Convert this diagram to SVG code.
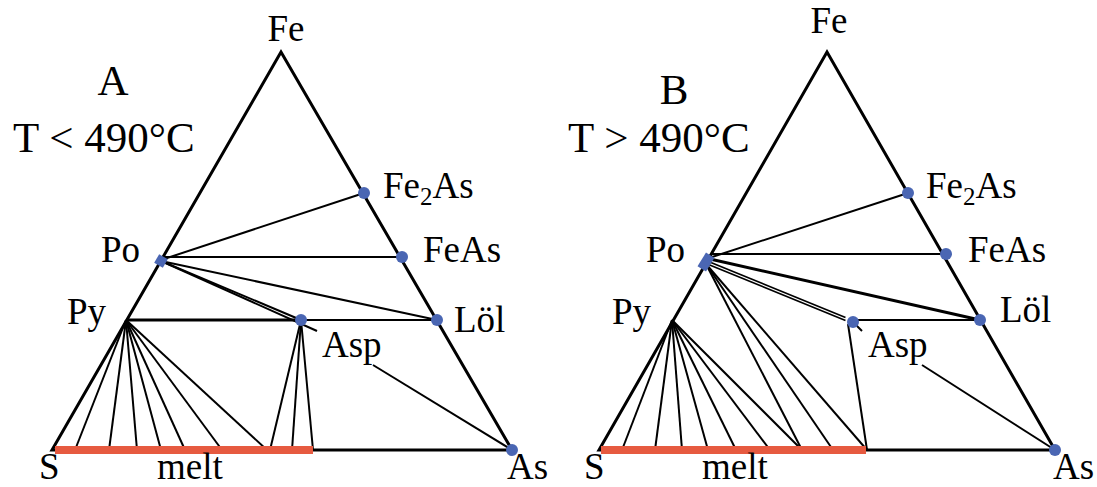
<svg xmlns="http://www.w3.org/2000/svg" width="1097" height="487" viewBox="0 0 1097 487">
<style>
  text { font-family: 'Liberation Serif', 'Times New Roman', Times, 'DejaVu Serif', serif; fill: #000; }
  .lbl { font-size: 37px; }
  .ttl { font-size: 43px; }
  .sub { font-size: 25px; }
  .edge { fill: none; stroke: #000; stroke-width: 3; stroke-linejoin: miter; }
  .tie { stroke: #000; stroke-width: 2; fill: none; }
  .thick { stroke: #000; stroke-width: 3; fill: none; }
  .thin { stroke: #000; stroke-width: 1.7; fill: none; }
  .dot { fill: #4a66b3; }
  .melt { fill: #e65a40; }
</style>
<rect width="1097" height="487" fill="#fff"/>

<!-- Panel A -->
<g id="connectors-A">
  <polygon class="edge" points="52,450 281,52 512,450"/>
  <line class="tie" x1="161" y1="260" x2="364" y2="193"/>
  <line class="tie" x1="163" y1="257" x2="402" y2="257"/>
  <line class="tie" x1="161" y1="261" x2="437" y2="320"/>
  <line class="tie" x1="161" y1="261" x2="301" y2="320"/>
  <line class="tie" x1="161" y1="261" x2="317" y2="331"/>
  <line class="thick" x1="126" y1="320" x2="301" y2="320"/>
  <line class="tie" x1="301" y1="320" x2="437" y2="320"/>
  <line class="tie" x1="126" y1="320" x2="75" y2="450"/>
  <line class="tie" x1="126" y1="320" x2="109" y2="450"/>
  <line class="tie" x1="126" y1="320" x2="137" y2="450"/>
  <line class="tie" x1="126" y1="320" x2="161" y2="450"/>
  <line class="tie" x1="126" y1="320" x2="185" y2="450"/>
  <line class="tie" x1="126" y1="320" x2="222" y2="450"/>
  <line class="tie" x1="126" y1="320" x2="267" y2="450"/>
  <line class="tie" x1="301" y1="320" x2="270" y2="450"/>
  <line class="tie" x1="301" y1="320" x2="292" y2="450"/>
  <line class="tie" x1="301" y1="320" x2="313" y2="450"/>
  <line class="tie" x1="373" y1="365" x2="512" y2="450"/>
  <rect class="melt" x="55" y="446" width="258" height="8"/>
</g>
<g id="title-A" font-family="'Liberation Serif', serif">
  <text class="ttl" x="113" y="95" text-anchor="middle">A</text>
  <text class="ttl" x="13" y="152">T &lt; 490°C</text>
</g>
<g id="node-A-Fe"><text class="lbl" x="286" y="41" text-anchor="middle">Fe</text></g>
<g id="node-A-Fe2As"><circle class="dot" cx="364" cy="193" r="6"/><text class="lbl" x="383" y="198">Fe<tspan class="sub" dy="7">2</tspan><tspan dy="-7">As</tspan></text></g>
<g id="node-A-FeAs"><circle class="dot" cx="402" cy="257" r="6"/><text class="lbl" x="423" y="262">FeAs</text></g>
<g id="node-A-Po"><rect class="dot" x="156" y="256" width="10" height="10" transform="rotate(30 161 261)"/><text class="lbl" x="101" y="262">Po</text></g>
<g id="node-A-Py"><text class="lbl" x="67" y="324">Py</text></g>
<g id="node-A-Lol"><circle class="dot" cx="437" cy="320" r="6"/><text class="lbl" x="454" y="332">Löl</text></g>
<g id="node-A-Asp"><circle class="dot" cx="301" cy="320" r="6"/><text class="lbl" x="322" y="357">Asp</text></g>
<g id="node-A-S"><text class="lbl" x="39" y="479">S</text></g>
<g id="node-A-melt"><text class="lbl" x="157" y="479">melt</text></g>
<g id="node-A-As"><circle class="dot" cx="512" cy="450" r="6"/><text class="lbl" x="507" y="479">As</text></g>

<!-- Panel B -->
<g id="connectors-B">
  <polygon class="edge" points="599,450 827,52 1055,450"/>
  <line class="tie" x1="709" y1="258" x2="908" y2="193"/>
  <line class="tie" x1="711" y1="254" x2="944" y2="254"/>
  <line class="thick" x1="710" y1="259" x2="980" y2="320"/>
  <line class="thin" x1="706" y1="260.5" x2="845.5" y2="317.5"/>
  <line class="thin" x1="706" y1="263.5" x2="845.5" y2="320.5"/>
  <line class="tie" x1="855" y1="324" x2="862" y2="331"/>
  <line class="tie" x1="853" y1="320" x2="980" y2="320"/>
  <line class="tie" x1="848" y1="324" x2="867" y2="450"/>
  <line class="tie" x1="672" y1="320" x2="622" y2="450"/>
  <line class="tie" x1="672" y1="320" x2="655" y2="450"/>
  <line class="tie" x1="672" y1="320" x2="682" y2="450"/>
  <line class="tie" x1="672" y1="320" x2="708" y2="450"/>
  <line class="tie" x1="672" y1="320" x2="736" y2="450"/>
  <line class="tie" x1="672" y1="320" x2="770" y2="450"/>
  <line class="tie" x1="672" y1="320" x2="802" y2="450"/>
  <line class="tie" x1="706" y1="264" x2="802" y2="450"/>
  <line class="tie" x1="706" y1="264" x2="833" y2="450"/>
  <line class="tie" x1="706" y1="264" x2="867" y2="450"/>
  <line class="tie" x1="922" y1="365" x2="1055" y2="450"/>
  <rect class="melt" x="601" y="446" width="265" height="8"/>
</g>
<g id="title-B">
  <text class="ttl" x="674" y="104" text-anchor="middle">B</text>
  <text class="ttl" x="568" y="152">T &gt; 490°C</text>
</g>
<g id="node-B-Fe"><text class="lbl" x="829" y="33" text-anchor="middle">Fe</text></g>
<g id="node-B-Fe2As"><circle class="dot" cx="908" cy="193" r="6"/><text class="lbl" x="926" y="198">Fe<tspan class="sub" dy="7">2</tspan><tspan dy="-7">As</tspan></text></g>
<g id="node-B-FeAs"><circle class="dot" cx="946" cy="254" r="6"/><text class="lbl" x="968" y="262">FeAs</text></g>
<g id="node-B-Po"><rect class="dot" x="698" y="257" width="16" height="10" transform="rotate(-58 706 262)"/><text class="lbl" x="646" y="262">Po</text></g>
<g id="node-B-Py"><text class="lbl" x="612" y="324">Py</text></g>
<g id="node-B-Lol"><circle class="dot" cx="980" cy="320" r="6"/><text class="lbl" x="1000" y="322">Löl</text></g>
<g id="node-B-Asp"><circle class="dot" cx="853" cy="322" r="6"/><text class="lbl" x="868" y="357">Asp</text></g>
<g id="node-B-S"><text class="lbl" x="584" y="479">S</text></g>
<g id="node-B-melt"><text class="lbl" x="702" y="479">melt</text></g>
<g id="node-B-As"><circle class="dot" cx="1055" cy="450" r="6"/><text class="lbl" x="1053" y="479">As</text></g>
</svg>
